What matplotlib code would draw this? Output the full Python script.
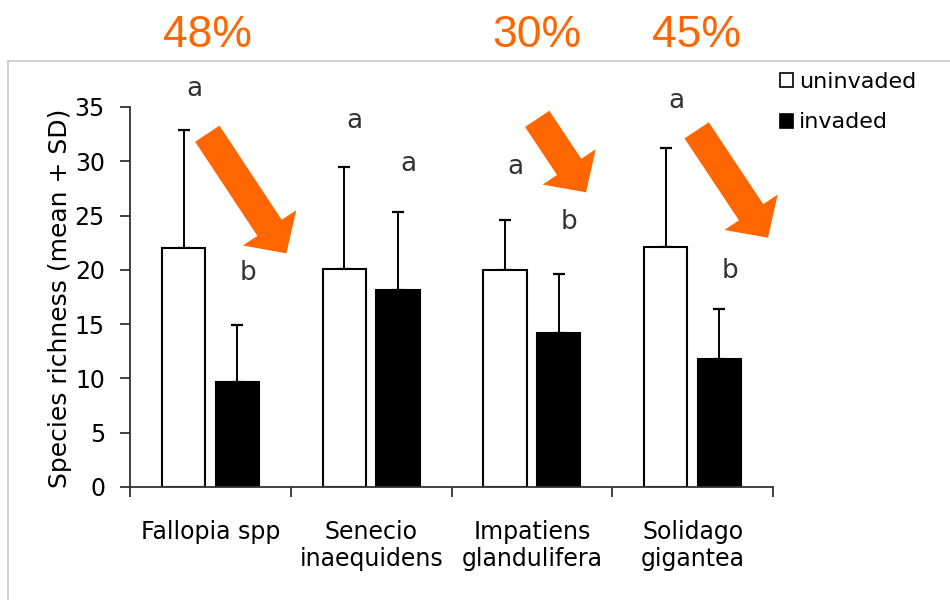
import numpy as np
import matplotlib
matplotlib.use('Agg')
import matplotlib.pyplot as plt
import matplotlib.transforms as mtransforms
from matplotlib.patches import Patch
from matplotlib.lines import Line2D

# species richness per invader, plots without / with the invader
species = ['Fallopia spp', 'Senecio\ninaequidens', 'Impatiens\nglandulifera', 'Solidago\ngigantea']
uninvaded_mean = [22.0, 20.1, 20.0, 22.1]
uninvaded_sd = [10.9, 9.4, 4.6, 9.1]
invaded_mean = [9.7, 18.1, 14.2, 11.8]
invaded_sd = [5.2, 7.2, 5.4, 4.6]
letters_uninv = ['a', 'a', 'a', 'a']
letters_inv = ['b', 'a', 'b', 'b']
decline = ['48%', None, '30%', '45%']

ORANGE = '#ff6600'

plt.rcParams['font.family'] = ['DejaVu Sans']

fig = plt.figure(figsize=(9.5, 6), dpi=100)
ax = fig.add_axes([130/950, 1-487/600, 643/950, 380/600])

x = np.arange(len(species)) + 0.5
w = 0.27
off = 0.167

ax.bar(x - off, uninvaded_mean, w, color='white', edgecolor='black', lw=1.5, zorder=2)
ax.bar(x + off, invaded_mean, w, color='black', edgecolor='black', lw=1.5, zorder=2)
ax.errorbar(x - off, uninvaded_mean, yerr=[np.zeros(4), uninvaded_sd], fmt='none',
            ecolor='black', elinewidth=1.4, capsize=4, capthick=1.6, zorder=1)
ax.errorbar(x + off, invaded_mean, yerr=[np.zeros(4), invaded_sd], fmt='none',
            ecolor='black', elinewidth=1.4, capsize=4, capthick=1.6, zorder=1)

# significance letters
letter_y_uninv = [36.66, 33.71, 29.47, 35.58]
letter_y_inv = [19.71, 29.72, 24.41, 19.92]
for i in range(len(species)):
    ax.text(x[i] - off + 0.065, letter_y_uninv[i], letters_uninv[i], ha='center', va='center',
            fontsize=19, color='#333333', clip_on=False)
    ax.text(x[i] + off + 0.065, letter_y_inv[i], letters_inv[i], ha='center', va='center',
            fontsize=19, color='#333333', clip_on=False)

# decline arrows (tail, tip) in data units
arrows = {0: ((0.481, 32.54), (0.973, 21.52)),
          2: ((2.533, 33.91), (2.837, 27.14)),
          3: ((3.525, 32.85), (3.969, 22.96))}
top = mtransforms.blended_transform_factory(ax.transData, fig.transFigure)
for i, (tail, tip) in arrows.items():
    ax.annotate('', xy=tip, xytext=tail, annotation_clip=False,
                arrowprops=dict(arrowstyle='simple,head_length=1.1,head_width=2.3,tail_width=1.05',
                                mutation_scale=20, color=ORANGE, lw=0, shrinkA=0, shrinkB=0))
    ax.text(tail[0], 1-47/600, decline[i], transform=top, ha='center', va='baseline',
            fontsize=32, color=ORANGE, family='Liberation Sans')

ax.set_xlim(0, 4)
ax.set_ylim(0, 35)
ax.set_yticks(range(0, 36, 5))
ax.set_xticks(range(5))
ax.set_xticklabels([])
ax.set_xticks(x, minor=True)
ax.set_xticklabels(species, minor=True, fontsize=17, va='top', linespacing=1.15)
ax.tick_params(axis='x', which='major', direction='out', length=7, width=1.3, color='#333333')
ax.tick_params(axis='x', which='minor', length=0, pad=24)
ax.tick_params(axis='y', direction='out', length=7, width=1.3, color='#333333',
               labelsize=17, pad=11)
for s in ['top', 'right']:
    ax.spines[s].set_visible(False)
for s in ['left', 'bottom']:
    ax.spines[s].set_linewidth(1.3)
    ax.spines[s].set_color('#333333')

ax.set_ylabel('Species richness (mean + SD)', fontsize=18, va='center')
ax.yaxis.set_label_coords(-0.109, 0.496)

handles = [Patch(facecolor='white', edgecolor='black', lw=1.2),
           Patch(facecolor='black', edgecolor='black', lw=1.2)]
fig.legend(handles, ['uninvaded', 'invaded'], loc='upper left',
           bbox_to_anchor=(780/950, 1-72/600), frameon=False, fontsize=16,
           handlelength=0.6, handleheight=0.6, handletextpad=0.25,
           labelspacing=0.92, borderpad=0, borderaxespad=0)

# thin grey frame around the chart
fig.add_artist(Line2D([8/950, 1.0], [1-61/600, 1-61/600], transform=fig.transFigure,
                      color='#c8c8c8', lw=1.2))
fig.add_artist(Line2D([8/950, 8/950], [0, 1-61/600], transform=fig.transFigure,
                      color='#c8c8c8', lw=1.2))

fig.savefig('out.png', dpi=100)
